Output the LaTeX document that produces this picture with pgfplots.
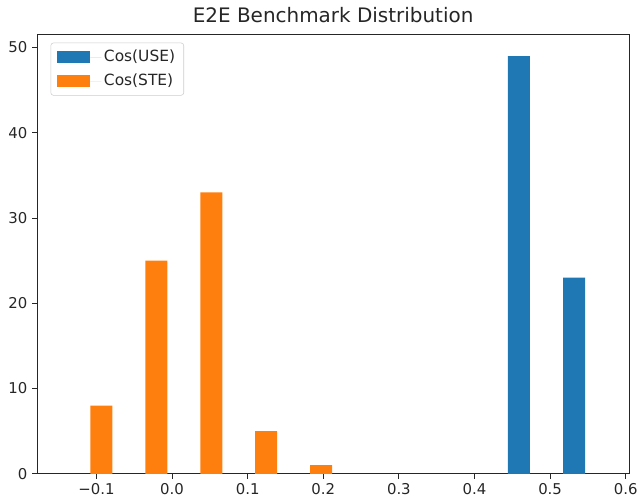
\documentclass[border=0pt]{standalone}
\usepackage{fontspec}
\setmainfont{DejaVu Sans}
\usepackage{pgfplots}
\pgfplotsset{compat=1.18}
\definecolor{tabblue}{HTML}{1F77B4}
\definecolor{taborange}{HTML}{FF7F0E}
\begin{document}
\begin{tikzpicture}
\begin{axis}[
    scale only axis,
    width=445.5pt, height=330.75pt,
    xmin=-0.1787, xmax=0.6048,
    ymin=0, ymax=51.6,
    xtick={-0.1,0,0.1,0.2,0.3,0.4,0.5,0.6},
    xticklabels={−0.1,0.0,0.1,0.2,0.3,0.4,0.5,0.6},
    ytick={0,10,20,30,40,50},
    /pgf/number format/assume math mode=true,
    tick align=outside,
    major tick length=3.6pt,
    tick style={black!85, line width=0.6pt},
    xtick pos=bottom, ytick pos=left,
    axis line style={black!85, line width=0.6pt},
    tick label style={font=\fontsize{11.2}{13}\selectfont, text=black!85},
    title={E2E Benchmark Distribution},
    title style={font=\fontsize{15}{17}\selectfont, text=black!85, yshift=-1pt},
    legend cell align=left,
    legend style={at={(0.023,0.98)}, anchor=north west,
        draw=black!20, rounded corners=2pt,
        font=\fontsize{11.6}{13.5}\selectfont, text=black!85,
        inner xsep=4.5pt, inner ysep=3.5pt, row sep=3.75pt},
    legend image code/.code={
        \fill[#1, sharp corners] (0pt,-4.4pt) rectangle (24.75pt,4.4pt);
        \path (0pt,0pt) -- (33.5pt,0pt);},
]
\addplot[ybar, bar shift=0pt, bar width=0.0292, fill=tabblue, draw=none]
    coordinates {(0.4588,49) (0.5317,23)};
\addlegendentry{Cos(USE)}
\addplot[ybar, bar shift=0pt, bar width=0.0292, fill=taborange, draw=none]
    coordinates {(-0.0935,8) (-0.0207,25) (0.0521,33) (0.1245,5) (0.1972,1)};
\addlegendentry{Cos(STE)}
\end{axis}
\path ([xshift=-27.75pt,yshift=-20.25pt]current axis.south west)
    rectangle ([xshift=8.25pt,yshift=25.5pt]current axis.north east);
\end{tikzpicture}
\end{document}
